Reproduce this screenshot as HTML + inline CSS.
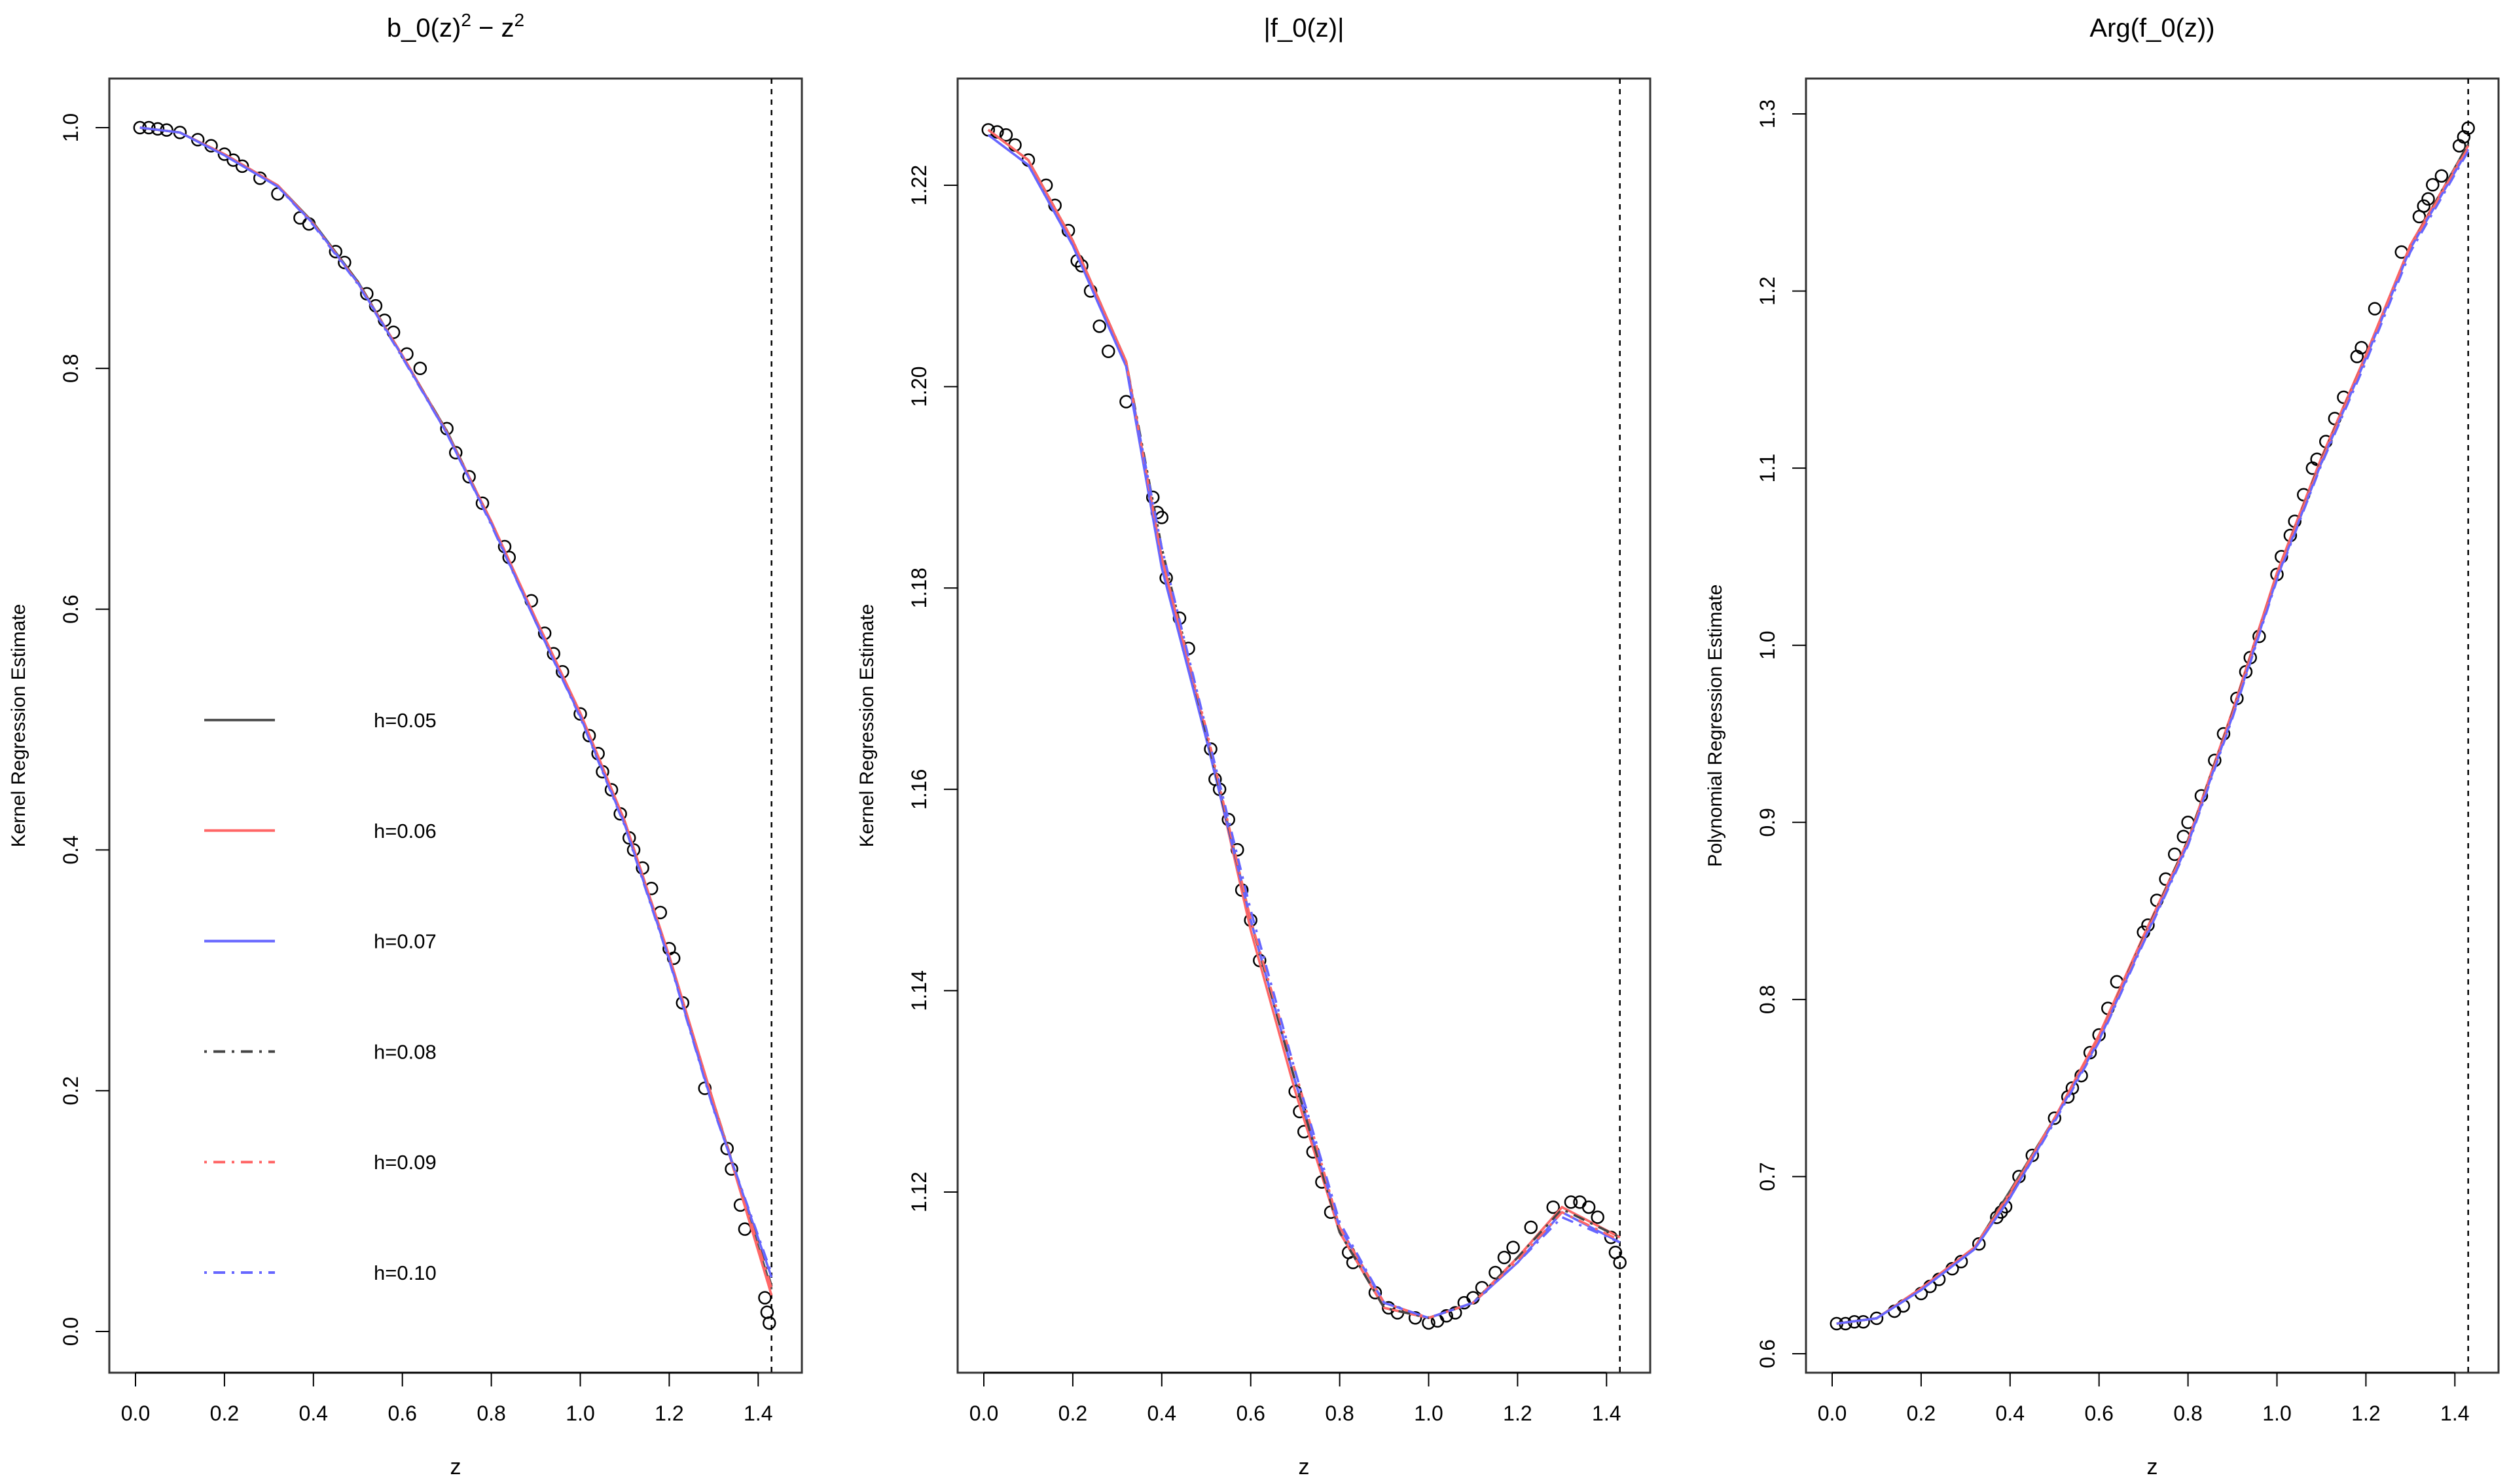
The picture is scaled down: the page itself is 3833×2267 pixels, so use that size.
<!DOCTYPE html>
<html><head><meta charset="utf-8">
<style>
html,body{margin:0;padding:0;background:#fff;}
svg{display:block;font-family:"Liberation Sans",sans-serif;}
</style></head>
<body>
<svg id="fig" width="3833" height="2267" viewBox="0 0 3833 2267" xmlns="http://www.w3.org/2000/svg"></svg>
<script>
// ---- data ----
const lineZ = [0.01,0.1,0.2,0.32,0.4,0.5,0.6,0.7,0.8,0.9,1.0,1.1,1.2,1.3,1.43];
const xTicks = [0,0.2,0.4,0.6,0.8,1.0,1.2,1.4];
const xTickLabels = ["0.0","0.2","0.4","0.6","0.8","1.0","1.2","1.4"];
const cutoffZ = 1.43;

// panel 1
const p1PointZ = [0.01,0.03,0.05,0.07,0.1,0.14,0.17,0.2,0.22,0.24,0.28,0.32,0.37,0.39,0.45,0.47,0.52,0.54,0.56,0.58,0.61,0.64,0.7,0.72,0.75,0.78,0.83,0.84,0.89,0.92,0.94,0.96,1.0,1.02,1.04,1.05,1.07,1.09,1.11,1.12,1.14,1.16,1.18,1.2,1.21,1.23,1.28,1.33,1.34,1.36,1.37,1.415,1.42,1.425];
const p1PointY = [1.0,1.0,0.999,0.998,0.996,0.99,0.985,0.978,0.973,0.968,0.958,0.945,0.925,0.92,0.897,0.888,0.862,0.852,0.84,0.83,0.812,0.8,0.75,0.73,0.71,0.688,0.652,0.643,0.607,0.58,0.563,0.548,0.513,0.495,0.48,0.465,0.45,0.43,0.41,0.4,0.385,0.368,0.348,0.318,0.31,0.273,0.202,0.152,0.135,0.105,0.085,0.028,0.016,0.007];
const p1h05 = [1.0,0.996,0.978,0.952,0.921,0.872,0.81,0.748,0.672,0.59,0.512,0.423,0.31,0.19,0.035];
const p1h06 = [1.0,0.996,0.978,0.952,0.92,0.871,0.811,0.747,0.673,0.592,0.514,0.424,0.312,0.19,0.03];
const p1h07 = [1.0,0.996,0.977,0.951,0.92,0.871,0.81,0.746,0.671,0.589,0.511,0.421,0.309,0.185,0.045];
const p1h08 = [1.0,0.996,0.978,0.952,0.92,0.872,0.81,0.748,0.672,0.59,0.512,0.423,0.31,0.19,0.038];
const p1h09 = [1.0,0.996,0.978,0.952,0.92,0.871,0.81,0.747,0.672,0.591,0.513,0.423,0.311,0.19,0.036];
const p1h10 = [1.0,0.996,0.977,0.951,0.919,0.87,0.809,0.746,0.67,0.589,0.51,0.42,0.308,0.184,0.048];
const p1YTicks = [0.0,0.2,0.4,0.6,0.8,1.0];
const p1YTickLabels = ["0.0","0.2","0.4","0.6","0.8","1.0"];

// panel 2
const p2PointZ = [0.01,0.03,0.05,0.07,0.1,0.14,0.16,0.19,0.21,0.22,0.24,0.26,0.28,0.32,0.38,0.39,0.4,0.41,0.44,0.46,0.51,0.52,0.53,0.55,0.57,0.58,0.6,0.62,0.7,0.71,0.72,0.74,0.76,0.78,0.82,0.83,0.88,0.91,0.93,0.97,1.0,1.02,1.04,1.06,1.08,1.1,1.12,1.15,1.17,1.19,1.23,1.28,1.32,1.34,1.36,1.38,1.41,1.42,1.43];
const p2PointY = [1.2255,1.2253,1.225,1.224,1.2225,1.22,1.218,1.2155,1.2125,1.212,1.2095,1.206,1.2035,1.1985,1.189,1.1875,1.187,1.181,1.177,1.174,1.164,1.161,1.16,1.157,1.154,1.15,1.147,1.143,1.13,1.128,1.126,1.124,1.121,1.118,1.114,1.113,1.11,1.1085,1.108,1.1075,1.107,1.1072,1.1077,1.108,1.109,1.1095,1.1105,1.112,1.1135,1.1145,1.1165,1.1185,1.119,1.119,1.1185,1.1175,1.1155,1.114,1.113];
const p2h05 = [1.2255,1.2225,1.2145,1.2025,1.183,1.1655,1.147,1.131,1.116,1.1085,1.1075,1.109,1.1135,1.1185,1.1155];
const p2h06 = [1.2255,1.2225,1.2145,1.2025,1.183,1.1655,1.146,1.13,1.116,1.1085,1.1075,1.109,1.1135,1.1185,1.1155];
const p2h07 = [1.225,1.222,1.214,1.202,1.182,1.165,1.147,1.131,1.1165,1.109,1.1075,1.109,1.113,1.118,1.115];
const p2h08 = [1.2255,1.2225,1.2145,1.2025,1.184,1.1655,1.147,1.131,1.116,1.1085,1.1075,1.109,1.1135,1.1183,1.1155];
const p2h09 = [1.2255,1.2225,1.2145,1.2025,1.183,1.166,1.147,1.132,1.1165,1.109,1.1075,1.109,1.1132,1.118,1.1152];
const p2h10 = [1.225,1.222,1.214,1.202,1.184,1.166,1.148,1.132,1.117,1.109,1.1075,1.109,1.113,1.1175,1.115];
const p2YTicks = [1.12,1.14,1.16,1.18,1.20,1.22];
const p2YTickLabels = ["1.12","1.14","1.16","1.18","1.20","1.22"];

// panel 3
const p3PointZ = [0.01,0.03,0.05,0.07,0.1,0.14,0.16,0.2,0.22,0.24,0.27,0.29,0.33,0.37,0.38,0.39,0.42,0.45,0.5,0.53,0.54,0.56,0.58,0.6,0.62,0.64,0.7,0.71,0.73,0.75,0.77,0.79,0.8,0.83,0.86,0.88,0.91,0.93,0.94,0.96,1.0,1.01,1.03,1.04,1.06,1.08,1.09,1.11,1.13,1.15,1.18,1.19,1.22,1.28,1.32,1.33,1.34,1.35,1.37,1.41,1.42,1.43];
const p3PointY = [0.617,0.617,0.618,0.618,0.62,0.624,0.627,0.634,0.638,0.642,0.648,0.652,0.662,0.677,0.68,0.683,0.7,0.712,0.733,0.745,0.75,0.757,0.77,0.78,0.795,0.81,0.838,0.842,0.856,0.868,0.882,0.892,0.9,0.915,0.935,0.95,0.97,0.985,0.993,1.005,1.04,1.05,1.062,1.07,1.085,1.1,1.105,1.115,1.128,1.14,1.163,1.168,1.19,1.222,1.242,1.248,1.252,1.26,1.265,1.282,1.287,1.292];
const p3h05 = [0.617,0.62,0.637,0.66,0.692,0.733,0.778,0.835,0.89,0.962,1.04,1.105,1.163,1.225,1.283];
const p3h06 = [0.617,0.62,0.637,0.66,0.69,0.733,0.78,0.836,0.89,0.963,1.041,1.106,1.164,1.226,1.282];
const p3h07 = [0.617,0.62,0.636,0.659,0.688,0.732,0.777,0.833,0.888,0.96,1.038,1.103,1.162,1.224,1.28];
const p3h08 = [0.617,0.62,0.637,0.66,0.69,0.733,0.778,0.835,0.89,0.962,1.04,1.105,1.163,1.225,1.283];
const p3h09 = [0.617,0.62,0.637,0.66,0.691,0.733,0.778,0.834,0.889,0.961,1.04,1.104,1.163,1.225,1.281];
const p3h10 = [0.617,0.62,0.636,0.659,0.688,0.731,0.776,0.832,0.887,0.959,1.037,1.102,1.16,1.222,1.279];
const p3YTicks = [0.6,0.7,0.8,0.9,1.0,1.1,1.2,1.3];
const p3YTickLabels = ["0.6","0.7","0.8","0.9","1.0","1.1","1.2","1.3"];

const legendLabels = ["h=0.05","h=0.06","h=0.07","h=0.08","h=0.09","h=0.10"];

// ---- drawing ----
const NS = "http://www.w3.org/2000/svg";
const svg = document.getElementById("fig");
function mk(tag, attrs, parent){ const e=document.createElementNS(NS,tag); for(const k in attrs) e.setAttribute(k,attrs[k]); (parent||svg).appendChild(e); return e; }

const styles = [
  {stroke:"#555555", dash:""},
  {stroke:"#ff6666", dash:""},
  {stroke:"#6666ff", dash:""},
  {stroke:"#444444", dash:"4,10,18,10"},
  {stroke:"#ff6666", dash:"4,10,18,10"},
  {stroke:"#6666ff", dash:"4,10,18,10"}
];
const panels = [
  {left:167, title:"b", ylab:"Kernel Regression Estimate", yt:p1YTicks, ytl:p1YTickLabels, v0:0, p0:2034, v1:1, p1:195, pz:p1PointZ, py:p1PointY, series:[p1h05,p1h06,p1h07,p1h08,p1h09,p1h10]},
  {left:1463, title:"|f_0(z)|", ylab:"Kernel Regression Estimate", yt:p2YTicks, ytl:p2YTickLabels, v0:1.12, p0:1821, v1:1.22, p1:283, pz:p2PointZ, py:p2PointY, series:[p2h05,p2h06,p2h07,p2h08,p2h09,p2h10]},
  {left:2759, title:"Arg(f_0(z))", ylab:"Polynomial Regression Estimate", yt:p3YTicks, ytl:p3YTickLabels, v0:0.6, p0:2068, v1:1.3, p1:174, pz:p3PointZ, py:p3PointY, series:[p3h05,p3h06,p3h07,p3h08,p3h09,p3h10]}
];
const W=1058, TOP=120, BOT=2097;

panels.forEach((P,pi)=>{
  const g = mk("g",{});
  
  
  const xs = z => P.left + 40 + z*(135.9/0.2);
  const ys = v => P.p0 + (v-P.v0)*(P.p1-P.p0)/(P.v1-P.v0);
  const cx = P.left + W/2;
  const t = mk("text",{x:cx,y:56,"text-anchor":"middle","font-size":40,fill:"#000"},g);
  
  
  if(P.title==="b"){
    t.innerHTML = 'b_0(z)<tspan dy="-16" font-size="28">2</tspan><tspan dy="16"> \u2212 z</tspan><tspan dy="-16" font-size="28">2</tspan>';
  } else t.textContent = P.title;
  const box = mk("rect",{x:P.left,y:TOP,width:W,height:BOT-TOP,fill:"none",stroke:"#333",["stroke-width"]:3},g);
  
  
  xTicks.forEach((z,i)=>{
    const tk = mk("line",{x1:xs(z),x2:xs(z),y1:BOT,y2:BOT+21,stroke:"#000","stroke-width":2},g);
    
    
    const tl = mk("text",{x:xs(z),y:2170,"text-anchor":"middle","font-size":32,fill:"#000"},g);
    
    
    tl.textContent = xTickLabels[i];
  });
  const xa = mk("line",{x1:xs(0),x2:xs(1.4),y1:BOT,y2:BOT,stroke:"#000","stroke-width":3},g);
  
  
  const xl = mk("text",{x:cx,y:2252,"text-anchor":"middle","font-size":34,fill:"#000"},g);
  
  
  xl.textContent = "z";
  P.yt.forEach((v,i)=>{
    const tk = mk("line",{x1:P.left-21,x2:P.left,y1:ys(v),y2:ys(v),stroke:"#000","stroke-width":2},g);
    
    
    const lx = P.left-48;
    const tl = mk("text",{x:lx,y:ys(v),"text-anchor":"middle","font-size":32,fill:"#000",transform:`rotate(-90 ${lx} ${ys(v)})`},g);
    
    
    tl.textContent = P.ytl[i];
  });
  const yx = P.left-129, yy=(TOP+BOT)/2;
  const yl = mk("text",{x:yx,y:yy,"text-anchor":"middle","font-size":30,fill:"#000",transform:`rotate(-90 ${yx} ${yy})`},g);
  
  
  yl.textContent = P.ylab;
  const cl = mk("line",{x1:xs(cutoffZ),x2:xs(cutoffZ),y1:TOP,y2:BOT,stroke:"#000","stroke-width":2.5,"stroke-dasharray":"8,8"},g);
  
  
  P.pz.forEach((z,i)=>{
    const c = mk("circle",{cx:xs(z),cy:ys(P.py[i]),r:9,fill:"none",stroke:"#000","stroke-width":2.5},g);
    
    
  });
  P.series.forEach((arr,si)=>{
    const d = arr.map((v,i)=>(i?"L":"M")+xs(lineZ[i]).toFixed(1)+","+ys(v).toFixed(1)).join(" ");
    const pth = mk("path",{d:d,fill:"none",stroke:styles[si].stroke,"stroke-width":3.5,"stroke-dasharray":styles[si].dash},g);
    
    
  });
  if(pi===0){
    const lg = mk("g",{},g);
    
    
    legendLabels.forEach((lab,i)=>{
      const y = 1100 + i*168.8;
      const ln = mk("line",{x1:312,x2:420,y1:y,y2:y,stroke:styles[i].stroke,"stroke-width":4,"stroke-dasharray":styles[i].dash},lg);
      
      
      const tx = mk("text",{x:571,y:y+11,"font-size":31,fill:"#000"},lg);
      
      
      tx.textContent = lab;
    });
  }
});
</script>
</body></html>
